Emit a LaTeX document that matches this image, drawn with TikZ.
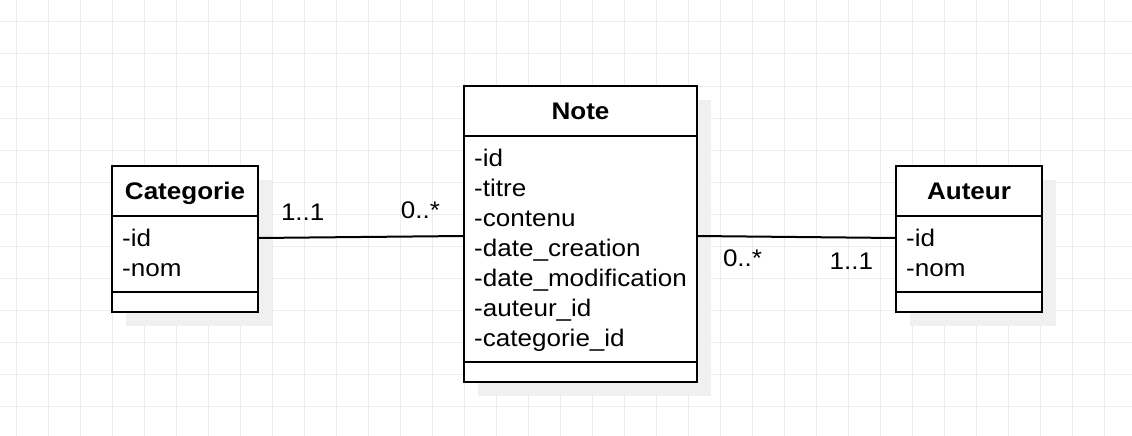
\documentclass[tikz,border=0pt]{standalone}
\usepackage{fontspec}
\setmainfont{Liberation Sans}[FakeStretch=1.085]
\usepackage{tikz}
\usetikzlibrary{positioning,shadows}
\definecolor{gridgray}{RGB}{236,236,236}
\definecolor{shadowgray}{RGB}{240,240,240}

\begin{document}
\begin{tikzpicture}[x=1pt,y=-1pt,
    gridline/.style={draw=gridgray,line width=1pt},
    box/.style={draw=black,line width=2pt,fill=white,inner sep=0pt,outer sep=0pt,
        drop shadow={shadow xshift=14pt,shadow yshift=-14pt,fill=shadowgray,opacity=1}},
    classname/.style={box,minimum height=50pt,text height=17pt,text depth=1pt,
        font=\fontsize{24}{30}\selectfont\bfseries},
    attr/.style={inner sep=0pt,anchor=north west,align=left,font=\fontsize{24}{30}\selectfont},
    mult/.style={inner sep=0pt,font=\fontsize{24}{30}\selectfont},
    link/.style={line width=2pt}]
    \useasboundingbox (0,0) rectangle (1132,436);
    \fill[white] (0,0) rectangle (1132,436);
    \foreach \x in {16,48,...,1136} \draw[gridline] (\x,0) -- (\x,436); % grid
    \foreach \y in {22,54,...,406} \draw[gridline] (0,\y) -- (1132,\y);

    % Categorie
    \node[classname,minimum width=146pt,anchor=north west] (cattitle) at (112,166) {Categorie};
    \node[box,minimum width=146pt,minimum height=76pt,below=0pt of cattitle] (catbody) {};
    \node[box,minimum width=146pt,minimum height=20pt,below=0pt of catbody] (catfoot) {};
    \node[attr] (catattr) at ([shift={(10pt,-9pt)}]catbody.north west) {\strut-id\\-nom};

    % Note
    \node[classname,minimum width=233pt,anchor=north west] (notetitle) at (464,86) {Note};
    \node[box,minimum width=233pt,minimum height=226pt,below=0pt of notetitle] (notebody) {};
    \node[box,minimum width=233pt,minimum height=20pt,below=0pt of notebody] (notefoot) {};
    \node[attr] (noteattr) at ([shift={(10pt,-9pt)}]notebody.north west)
        {\strut-id\\-titre\\-contenu\\-date\_creation\\-date\_modification\\-auteur\_id\\-categorie\_id};

    % Auteur
    \node[classname,minimum width=146pt,anchor=north west] (auttitle) at (896,166) {Auteur};
    \node[box,minimum width=146pt,minimum height=76pt,below=0pt of auttitle] (autbody) {};
    \node[box,minimum width=146pt,minimum height=20pt,below=0pt of autbody] (autfoot) {};
    \node[attr] (autattr) at ([shift={(10pt,-9pt)}]autbody.north west) {\strut-id\\-nom};

    % associations
    \draw[link] ([yshift=16pt]catbody.east) -- ([yshift=13pt]notebody.west)
        node[mult,pos=0,anchor=base west,xshift=22pt,yshift=18pt] (catmult) {1..1}
        node[mult,pos=1,anchor=base east,xshift=-23pt,yshift=18pt] (notemultl) {0..*};
    \draw[link] ([yshift=13pt]notebody.east) -- ([yshift=16pt]autbody.west)
        node[mult,pos=0,anchor=base west,xshift=25pt,yshift=-30pt] (notemultr) {0..*}
        node[mult,pos=1,anchor=base east,xshift=-22pt,yshift=-31pt] (autmult) {1..1};
\end{tikzpicture}
\end{document}
